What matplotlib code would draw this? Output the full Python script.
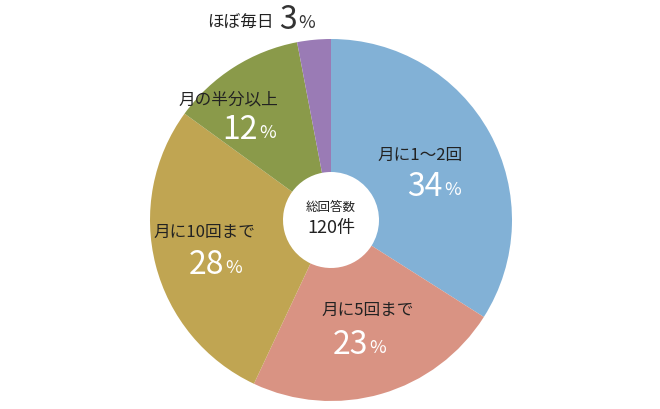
import matplotlib
matplotlib.use("Agg")
import matplotlib.pyplot as plt

plt.rcParams['font.family'] = ['Noto Sans CJK JP', 'DejaVu Sans']

categories = ["月に1〜2回", "月に5回まで", "月に10回まで", "月の半分以上", "ほぼ毎日"]
values = [34, 23, 28, 12, 3]
colors = ["#82b1d6", "#d99383", "#c0a552", "#8a9a4a", "#9a7bb5"]
text_colors = ["white", "#333333", "#333333", "#333333", "#333333"]
label_colors = ["#222222", "#222222", "#222222", "#222222", "#222222"]

fig = plt.figure(figsize=(6.6, 4.09), dpi=100)
ax = fig.add_axes([0, 0, 1, 1])
ax.set_xlim(0, 660)
ax.set_ylim(0, 409)
ax.set_aspect('equal')
ax.axis('off')

cx, cy, R = 331, 189, 181
ax.pie(values, colors=colors, startangle=90, counterclock=False,
       center=(cx, cy), radius=R, wedgeprops=dict(width=R - 48, edgecolor='none'),
       frame=True)
ax.set_xlim(0, 660)
ax.set_ylim(0, 409)
ax.axis('off')

# label positions (pixel, from top)
pos = [(420, 155, 437, 187), (368, 310, 362, 345), (204, 232, 218, 265), (228, 100, 252, 130)]
pct_col = ["white", "white", "white", "white"]
for i, (lx, ly, px, py) in enumerate(pos):
    ax.text(lx, 409 - ly, categories[i], ha='center', va='center', fontsize=12, color='#222222')
    ax.text(px + 6, 409 - py, str(values[i]), ha='right', va='center', fontsize=23, color='white')
    ax.text(px + 7, 409 - py - 3, "%", ha='left', va='center', fontsize=13, color='white')

ax.text(240, 409 - 22, categories[4], ha='center', va='center', fontsize=12, color='#222222')
ax.text(297, 409 - 20, str(values[4]), ha='right', va='center', fontsize=23, color='#333333')
ax.text(298, 409 - 23, "%", ha='left', va='center', fontsize=13, color='#333333')

ax.text(cx, 409 - 207, "総回答数", ha='center', va='center', fontsize=9, color='#222222')
ax.text(cx, 409 - 228, "120件", ha='center', va='center', fontsize=13, color='#222222')

fig.savefig("out.png", dpi=100)
